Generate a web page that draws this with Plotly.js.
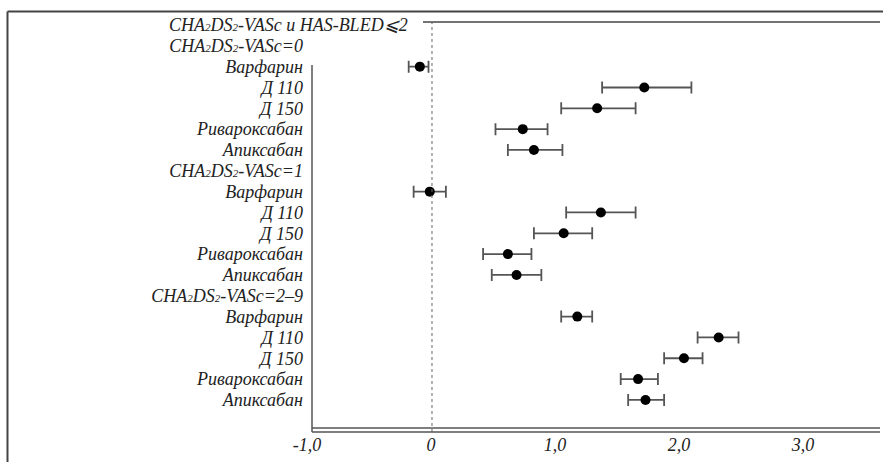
<!DOCTYPE html>
<html>
<head>
<meta charset="utf-8">
<script src="https://cdn.plot.ly/plotly-3.0.1.min.js"></script>
<style>html,body{margin:0;padding:0;background:#fff;}#chart{width:883px;height:462px;}</style>
</head>
<body>
<div id="chart"></div>
<script>
// ---- data ----
var s2 = '<span style="font-size:11px">2</span>';
var headerLabel = 'CHA' + s2 + 'DS' + s2 + '-VASc и HAS-BLED⩽2';
var groupLabels = ['CHA' + s2 + 'DS' + s2 + '-VASc=0', 'CHA' + s2 + 'DS' + s2 + '-VASc=1', 'CHA' + s2 + 'DS' + s2 + '-VASc=2–9'];
var drugs = ['Варфарин', 'Д 110', 'Д 150', 'Ривароксабан', 'Апиксабан'];

var group0Mean = [-0.09, 1.72, 1.34, 0.74, 0.83];
var group0Low  = [-0.18, 1.38, 1.05, 0.52, 0.62];
var group0High = [-0.02, 2.10, 1.65, 0.94, 1.06];

var group1Mean = [-0.01, 1.37, 1.07, 0.62, 0.69];
var group1Low  = [-0.14, 1.09, 0.83, 0.42, 0.49];
var group1High = [0.12, 1.65, 1.30, 0.81, 0.89];

var group2Mean = [1.18, 2.32, 2.04, 1.67, 1.73];
var group2Low  = [1.05, 2.15, 1.88, 1.53, 1.59];
var group2High = [1.30, 2.48, 2.19, 1.83, 1.88];

var xTickVals = [-1, 0, 1, 2, 3];
var xTickText = ['-1,0', '0', '1,0', '2,0', '3,0'];

// ---- build rows ----
var means = [group0Mean, group1Mean, group2Mean];
var lows = [group0Low, group1Low, group2Low];
var highs = [group0High, group1High, group2High];

var rowText = [''];          // row 0: header drawn as annotation
var xs = [], ys = [], ePlus = [], eMinus = [];
for (var g = 0; g < groupLabels.length; g++) {
  rowText.push(groupLabels[g]);
  for (var d = 0; d < drugs.length; d++) {
    var r = rowText.length;
    rowText.push(drugs[d]);
    xs.push(means[g][d]);
    ys.push(r);
    ePlus.push(highs[g][d] - means[g][d]);
    eMinus.push(means[g][d] - lows[g][d]);
  }
}
var rowVals = rowText.map(function (_, i) { return i; });

function tf() { return {family: 'Liberation Serif, Times New Roman, serif', size: 18, color: '#222', style: 'italic'}; }
var lineCol = '#555';

var trace = {
  type: 'scatter', mode: 'markers',
  x: xs, y: ys,
  marker: {color: '#000', size: 10},
  error_x: {type: 'data', symmetric: false, array: ePlus, arrayminus: eMinus,
            color: lineCol, thickness: 1.8, width: 6},
  hoverinfo: 'x+y', showlegend: false, cliponaxis: false
};

var layout = {
  width: 883, height: 462,
  margin: {l: 307, r: 3, t: 22, b: 30, pad: 0},
  paper_bgcolor: '#fff', plot_bgcolor: '#fff',
  showlegend: false,
  xaxis: {
    range: [-1, 3.621], tickvals: xTickVals, ticktext: xTickText,
    showgrid: false, zeroline: false, showline: false,
    ticks: '', ticklabelstandoff: 0,
    tickfont: tf()
  },
  yaxis: {
    range: [19.54, -0.144], tickvals: rowVals, ticktext: rowText,
    showgrid: false, zeroline: false, showline: false,
    ticks: '', ticklabelstandoff: 3,
    tickfont: tf()
  },
  annotations: [{
    text: headerLabel, xref: 'paper', yref: 'y', x: 0.1798, y: 0,
    xanchor: 'right', yanchor: 'middle', showarrow: false,
    font: tf()
  }],
  shapes: [
    // outer frame
    {type: 'line', xref: 'paper', yref: 'paper', x0: -0.5227, x1: 1.01, y0: 1.0256, y1: 1.0256, line: {color: '#444', width: 2}},
    {type: 'line', xref: 'paper', yref: 'paper', x0: -0.5227, x1: -0.5227, y0: 1.0256, y1: -0.08, line: {color: '#444', width: 2}},
    // inner top line
    {type: 'line', xref: 'paper', yref: 'paper', x0: 0.2024, x1: 1, y0: 1, y1: 1, line: {color: '#444', width: 1.5}},
    // zero reference line
    {type: 'line', xref: 'x', yref: 'paper', x0: 0.008, x1: 0.008, y0: 0, y1: 1, line: {color: '#666', width: 1, dash: 'dot'}},
    // left axis line
    {type: 'line', xref: 'paper', yref: 'y', x0: 0.00873, x1: 0.00873, y0: 1.92, y1: 19.54, line: {color: lineCol, width: 1.5}},
    // double bottom axis line
    {type: 'line', xref: 'paper', yref: 'paper', x0: 0.00873, x1: 1, y0: 0, y1: 0, line: {color: lineCol, width: 1.5}},
    {type: 'line', xref: 'paper', yref: 'paper', x0: 0.00873, x1: 1, y0: 0.00976, y1: 0.00976, line: {color: lineCol, width: 1.5}}
  ]
};

Plotly.newPlot('chart', [trace], layout, {displayModeBar: false, staticPlot: true});
</script>
</body>
</html>
